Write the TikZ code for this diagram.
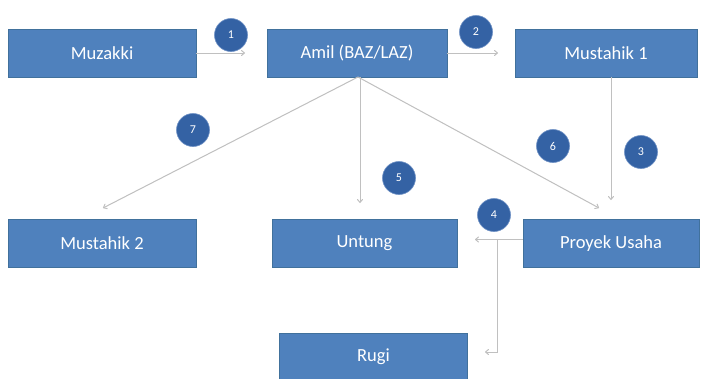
\documentclass[tikz,border=0pt]{standalone}
\usepackage{fontspec}
\setmainfont{Carlito}
\definecolor{boxfill}{HTML}{4F81BD}
\definecolor{boxline}{HTML}{41719C}
\definecolor{circfill}{HTML}{3462A4}
\definecolor{circline}{HTML}{6C8FC4}
\definecolor{conn}{HTML}{C0C0C0}
\tikzset{
  blk/.style={draw=boxline, line width=0.8pt, fill=boxfill, minimum width=188pt, minimum height=48pt, inner sep=0pt, text=white, font=\fontsize{18.5}{22}\selectfont},
  num/.style={circle, draw=circline, line width=0.6pt, fill=circfill, minimum size=33pt, inner sep=0pt, text=white, font=\fontsize{12}{14}\selectfont},
  conline/.style={draw=conn, line width=1pt, -{To[length=4pt,width=6pt]}},
  plainline/.style={draw=conn, line width=1pt}
}
\usetikzlibrary{shapes.geometric,arrows.meta}
\begin{document}
\begin{tikzpicture}[x=1pt,y=-1pt]
\useasboundingbox[fill=white] (0,0) rectangle (702,378);
% boxes
\node[blk] (muz) at (102,53) {Muzakki};
\node[blk, minimum width=180pt] (amil) at (357,53) {Amil (BAZ/LAZ)};
\node[blk, minimum width=182pt] (mus1) at (606,53) {Mustahik 1};
\node[blk] (mus2) at (102,243.5) {Mustahik 2};
\node[blk, minimum width=185pt] (unt) at (364.5,243.5) {Untung};
\node[blk, minimum width=176pt] (pro) at (611,243.5) {Proyek Usaha};
\node[blk] (rugi) at (373.5,357) {Rugi};
% arrow tips
\coordinate (t1) at (245,53);
\coordinate (t2) at (498,53);
\coordinate (t3) at (611,200);
\coordinate (t7) at (103,208);
\coordinate (t5) at (360,203);
\coordinate (t6) at (599,208);
\coordinate (t4) at (475,239.5);
\coordinate (br) at (497,239.5);
\coordinate (bl) at (497,352);
\coordinate (tr) at (485,352);
\coordinate (as) at (358,77);
% connectors
\draw[conline] (muz.east) -- (t1);
\draw[conline] (amil.east) -- (t2);
\draw[conline] (mus1.south -| t3) -- (t3);
\draw[conline] (as) -- (t7);
\draw[conline] (as -| t5) -- (t5);
\draw[conline] (as) -- (t6);
\draw[conline] (pro.west |- t4) -- (t4);
\draw[conline] (br) -- (bl) -- (tr);
% numbers
\node[num] (n1) at (231,35) {1};
\node[num] (n2) at (476,32) {2};
\node[num] (n7) at (193,130) {7};
\node[num] (n5) at (399,178) {5};
\node[num] (n6) at (553,146) {6};
\node[num] (n3) at (641,152) {3};
\node[num] (n4) at (494,215) {4};
\end{tikzpicture}
\end{document}
